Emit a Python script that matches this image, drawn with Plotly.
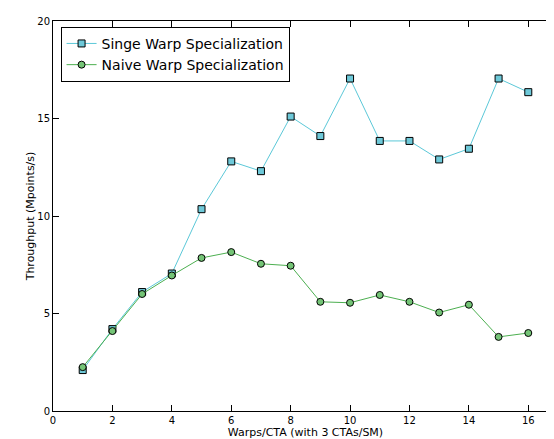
import plotly.graph_objects as go

warps = list(range(1, 17))
singe = [2.1, 4.2, 6.1, 7.05, 10.35, 12.8, 12.3, 15.1, 14.1, 17.05, 13.85, 13.85, 12.9, 13.45, 17.05, 16.35]
naive = [2.25, 4.1, 6.0, 6.95, 7.85, 8.15, 7.55, 7.45, 5.6, 5.55, 5.95, 5.6, 5.05, 5.45, 3.8, 4.0]
x_ticks = [0, 2, 4, 6, 8, 10, 12, 14, 16]
y_ticks = [0, 5, 10, 15, 20]

fig = go.Figure()
fig.add_trace(go.Scatter(x=warps, y=singe, name='Singe Warp Specialization', mode='lines+markers',
                         line=dict(color='#5bc8d8', width=1),
                         marker=dict(symbol='square', size=7, color='#6ec9d9', line=dict(color='black', width=1))))
fig.add_trace(go.Scatter(x=warps, y=naive, name='Naive Warp Specialization', mode='lines+markers',
                         line=dict(color='#4caf50', width=1),
                         marker=dict(symbol='circle', size=7, color='#74c476', line=dict(color='black', width=1))))

axis_style = dict(showgrid=False, zeroline=False, showline=True, mirror='allticks', linecolor='black',
                  ticks='inside', ticklen=6, tickcolor='black', tickfont=dict(size=10, color='black'),
                  automargin=False)
fig.update_xaxes(range=[0, 17], tickvals=x_ticks, title=dict(text='Warps/CTA (with 3 CTAs/SM)', font=dict(size=11), standoff=0), **axis_style)
fig.update_yaxes(range=[0, 20], tickvals=y_ticks, title=dict(text='Throughput (Mpoints/s)', font=dict(size=11), standoff=0), **axis_style)

fig.update_layout(width=554, height=439, margin=dict(l=45, r=4, t=13, b=36),
                  plot_bgcolor='white', paper_bgcolor='white',
                  font=dict(family='DejaVu Sans', color='black'),
                  legend=dict(x=0.015, y=0.985, xanchor='left', yanchor='top', bordercolor='black', borderwidth=1,
                              font=dict(size=14), bgcolor='white'))

fig.write_html('out.html')
